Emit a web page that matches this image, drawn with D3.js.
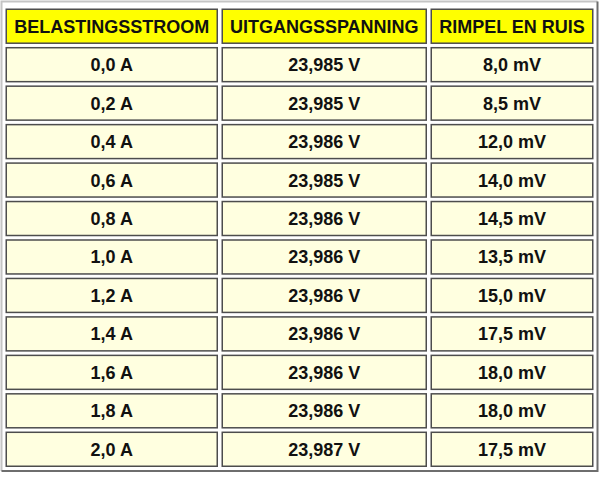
<!DOCTYPE html>
<html lang="nl">
<head>
  <meta charset="UTF-8">
  <title>Belastingstabel</title>
  <script src="https://d3js.org/d3.v7.min.js"></script>
  <style>
    body { margin: 0; background: #fff; }
    .cell text { font: bold 18px "Liberation Sans", Arial, sans-serif; fill: #111; }
  </style>
</head>
<body>
  <svg id="tabel" width="600" height="477"></svg>
  <script>
    const headers = ["BELASTINGSSTROOM", "UITGANGSSPANNING", "RIMPEL EN RUIS"];
    const currents = ["0,0 A", "0,2 A", "0,4 A", "0,6 A", "0,8 A", "1,0 A", "1,2 A", "1,4 A", "1,6 A", "1,8 A", "2,0 A"];
    const voltages = ["23,985 V", "23,985 V", "23,986 V", "23,985 V", "23,986 V", "23,986 V", "23,986 V", "23,986 V", "23,986 V", "23,986 V", "23,987 V"];
    const ripples = ["8,0 mV", "8,5 mV", "12,0 mV", "14,0 mV", "14,5 mV", "13,5 mV", "15,0 mV", "17,5 mV", "18,0 mV", "18,0 mV", "17,5 mV"];

    const svg = d3.select("svg#tabel");

    // layout
    let tableBox = {x: 1.5, y: 1.5, w: 596, h: 469.5};
    let colWidths = [212.5, 205.5, 163];
    let colGap = 3.5;
    let colX = [];
    colWidths.reduce((acc, w) => { colX.push(acc); return acc + w + colGap; }, 5.5);

    let rows = [headers].concat(currents.map((c, i) => [c, voltages[i], ripples[i]]));

    const yScale = d3.scaleBand()
                     .domain(d3.range(rows.length))
                     .range([8.5, 467])
                     .paddingInner(0.078)
                     .paddingOuter(0);

    // outer table border (outset)
    let outer = svg.append("g").attr("id", "outer");
    outer.append("path")
         .attr("d", `M${tableBox.x},${tableBox.y + tableBox.h} V${tableBox.y} H${tableBox.x + tableBox.w}`)
         .attr("fill", "none").attr("stroke", "#c4c4c4").attr("stroke-width", 2);
    outer.append("path")
         .attr("d", `M${tableBox.x + tableBox.w},${tableBox.y} V${tableBox.y + tableBox.h} H${tableBox.x}`)
         .attr("fill", "none").attr("stroke", "#6e6e6e").attr("stroke-width", 2);

    let body = svg.append("g").attr("id", "cells");

    rows.forEach((row, r) => {
      row.forEach((val, c) => {
        let g = body.append("g")
                    .attr("class", "cell")
                    .attr("transform", `translate(${colX[c]},${yScale(r)})`);

        g.append("rect")
         .attr("x", 0.75)
         .attr("y", 0.75)
         .attr("width", colWidths[c] - 1.5)
         .attr("height", yScale.bandwidth() - 1.5)
         .style("fill", r === 0 ? "#ffff00" : "#ffffe0")
         .style("stroke", "#4d4d4d")
         .style("stroke-width", 1.5);

        g.append("text")
         .attr("x", colWidths[c] / 2)
         .attr("y", yScale.bandwidth() / 2 + 6.5)
         .attr("text-anchor", "middle")
         .text(val);
      });
    });
  </script>
</body>
</html>
